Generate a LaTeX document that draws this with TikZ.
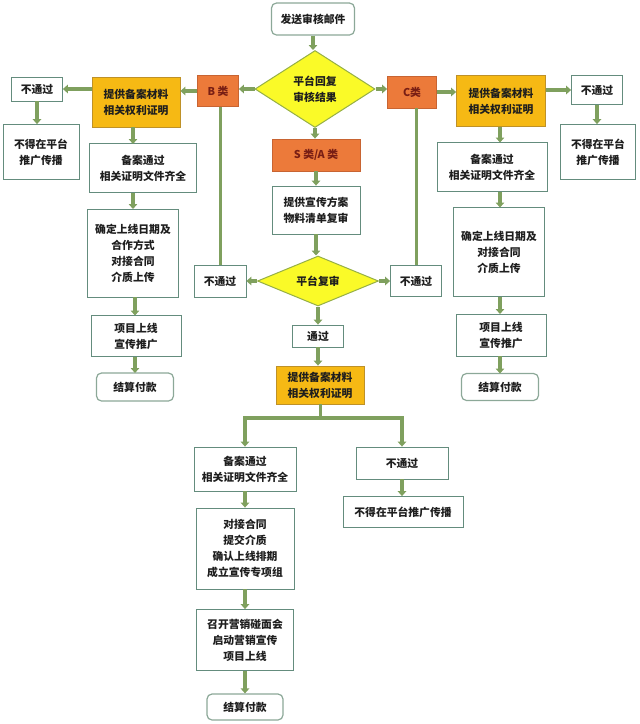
\documentclass[tikz,border=0pt]{standalone}
\usepackage{fontspec}
\newfontfamily\cjk{Noto Sans CJK SC}
\usetikzlibrary{shapes.geometric,arrows.meta}
\definecolor{arrowg}{RGB}{127,160,94}
\definecolor{bordc}{RGB}{100,140,125}
\definecolor{roundc}{RGB}{140,168,152}
\definecolor{orangef}{RGB}{236,122,58}
\definecolor{orangeb}{RGB}{200,100,50}
\definecolor{goldf}{RGB}{246,185,20}
\definecolor{goldb}{RGB}{190,145,40}
\definecolor{yelf}{RGB}{250,250,40}
\definecolor{yelb}{RGB}{150,175,70}
\definecolor{txt}{RGB}{30,30,30}
\definecolor{redtxt}{RGB}{120,30,20}
\begin{document}
\begin{tikzpicture}[x=1pt,y=-1pt,
  every node/.style={font=\cjk\bfseries\fontsize{10.8}{16}\selectfont, text=txt, align=center, inner sep=0pt},
  wbox/.style={draw=bordc, line width=0.8pt, fill=white},
  rbox/.style={draw=roundc, line width=1.2pt, fill=white, rounded corners=5pt},
  obox/.style={draw=orangeb, line width=0.8pt, fill=orangef, text=redtxt},
  gbox/.style={draw=goldb, line width=0.8pt, fill=goldf},
  dia/.style={diamond, draw=yelb, line width=1pt, fill=yelf},
  sz/.style 2 args={minimum width=#1pt, minimum height=#2pt},
  arr/.style={draw=arrowg, line width=3.8pt, -{Triangle[width=8.5pt,length=5pt]}},
  ln/.style={draw=arrowg, line width=3pt}
]
\useasboundingbox (0,0) rectangle (640,724);
% top
\node[rbox, sz={83}{32}] (start) at (313,19) {发送审核邮件};
\node[dia, sz={120}{77}] (d1) at (315,89) {平台回复\\审核结果};
\node[obox, sz={41}{31}] (bl) at (218,91) {B 类};
\node[obox, sz={49}{32}] (cl) at (412,92) {C类};
% left column
\node[gbox, sz={88}{50}] (pl) at (136,102) {提供备案材料\\相关权利证明};
\node[wbox, sz={51}{24}] (nl) at (37,89) {不通过};
\node[wbox, sz={76}{55}] (xl) at (41,152) {不得在平台\\推广传播};
\node[wbox, sz={107}{49}] (al) at (143,168) {备案通过\\相关证明文件齐全};
\node[wbox, sz={91}{88}] (kl) at (133,253) {确定上线日期及\\合作方式\\对接合同\\介质上传};
\node[wbox, sz={90}{41}] (ql) at (136,336) {项目上线\\宣传推广};
\node[rbox, sz={77}{28}] (jl) at (135,387) {结算付款};
% right column
\node[gbox, sz={89}{51}] (pr) at (501,101) {提供备案材料\\相关权利证明};
\node[wbox, sz={51}{29}] (nr) at (597,90) {不通过};
\node[wbox, sz={75}{55}] (xr) at (598,152) {不得在平台\\推广传播};
\node[wbox, sz={110}{49}] (ar) at (492,167) {备案通过\\相关证明文件齐全};
\node[wbox, sz={91}{89}] (kr) at (499,252) {确定上线日期及\\对接合同\\介质上传};
\node[wbox, sz={90}{42}] (qr) at (501,335) {项目上线\\宣传推广};
\node[rbox, sz={77}{27}] (jr) at (500,387) {结算付款};
% middle column
\node[obox, sz={88}{32}] (s) at (316,155) {S 类/A 类};
\node[wbox, sz={88}{48}] (t) at (316,210) {提供宣传方案\\物料清单复审};
\node[dia, sz={121}{50}, aspect=2.4] (d2) at (318,281) {平台复审};
\node[wbox, sz={52}{32}] (ml) at (220,281) {不通过};
\node[wbox, sz={51}{31}] (mr) at (416,281) {不通过};
\node[wbox, sz={51}{22}] (pass) at (318,336) {通过};
\node[gbox, sz={88}{38}] (pm) at (320,385) {提供备案材料\\相关权利证明};
\node[wbox, sz={102}{44}] (b1) at (245,469) {备案通过\\相关证明文件齐全};
\node[wbox, sz={92}{32}] (b2) at (402,463) {不通过};
\node[wbox, sz={120}{31}] (bx) at (403,512) {不得在平台推广传播};
\node[wbox, sz={98}{81}] (dk) at (245,548.5) {对接合同\\提交介质\\确认上线排期\\成立宣传专项组};
\node[wbox, sz={97}{61}] (zk) at (245,640) {召开营销碰面会\\启动营销宣传\\项目上线};
\node[rbox, sz={76}{26}] (jm) at (245,707) {结算付款};
% arrows top
\draw[arr] (start.south) -- (start.south |- d1.north);
\draw[arr] (d1.west) -- (bl.east |- d1.west);
\draw[arr] (d1.east) -- (cl.west |- d1.east);
\draw[arr] (d1.south) -- (d1.south |- s.north);
% left
\draw[arr] (bl.west) -- (pl.east |- bl.west);
\draw[arr] (pl.west |- nl.east) -- (nl.east);
\draw[arr] (nl.south) -- (nl.south |- xl.north);
\draw[arr] (133,127) -- (133,144);
\draw[arr] (133,193) -- (133,209);
\draw[arr] (135,297) -- (135,315.5);
\draw[arr] (135,356.5) -- (135,373);
% right
\draw[arr] (cl.east) -- (pr.west |- cl.east);
\draw[arr] (pr.east |- nr.west) -- (nr.west);
\draw[arr] (nr.south) -- (nr.south |- xr.north);
\draw[arr] (500,126.5) -- (500,142.5);
\draw[arr] (500,191.5) -- (500,207.5);
\draw[arr] (500,296.5) -- (500,314);
\draw[arr] (500,356) -- (500,373.5);
% middle
\draw[arr] (s.south) -- (s.south |- t.north);
\draw[arr] (t.south) -- (t.south |- d2.north);
\draw[arr] (d2.west) -- (ml.east);
\draw[arr] (d2.east) -- (mr.west);
\draw[ln] (ml.north) -- (ml.north |- bl.south);
\draw[ln] (mr.north) -- (mr.north |- cl.south);
\draw[arr] (d2.south) -- (d2.south |- pass.north);
\draw[arr] (pass.south) -- (pass.south |- pm.north);
\draw[ln] (pm.south) -- (320,418) coordinate (br);
\draw[arr, line join=miter] (br) -| (b1.north);
\draw[arr, line join=miter] (br) -| (b2.north);
\draw[arr] (b2.south) -- (b2.south |- bx.north);
\draw[arr] (b1.south) -- (b1.south |- dk.north);
\draw[arr] (dk.south) -- (dk.south |- zk.north);
\draw[arr] (zk.south) -- (zk.south |- jm.north);
\end{tikzpicture}
\end{document}
